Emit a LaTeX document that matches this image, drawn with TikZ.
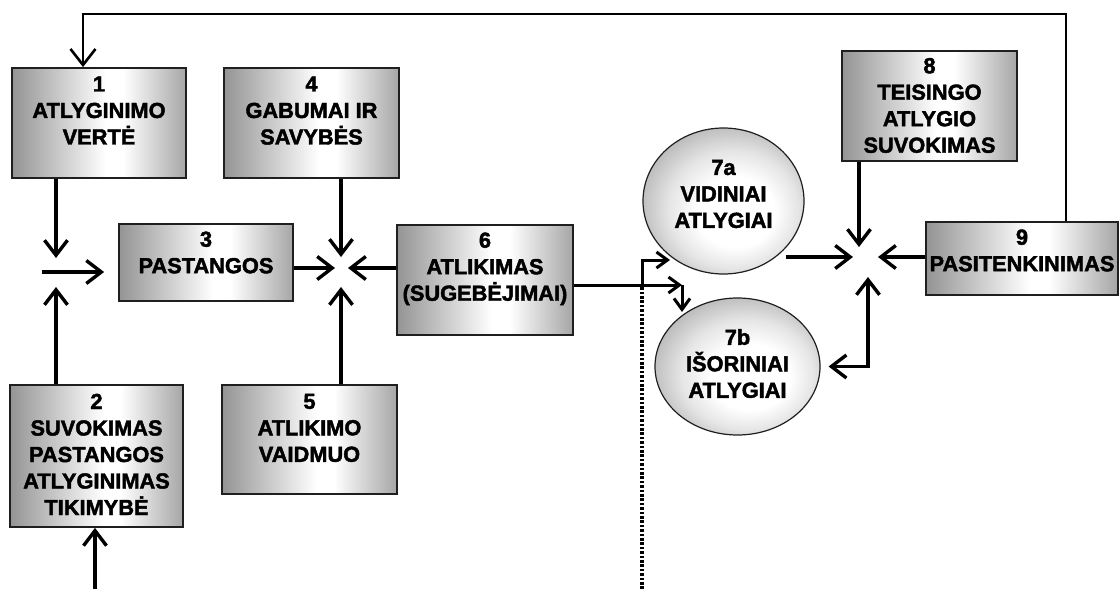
\documentclass[tikz,border=0pt]{standalone}
\usepackage{fontspec}
\setmainfont{Liberation Sans}[BoldFeatures={FakeBold=2}]
\usetikzlibrary{arrows.meta,shapes.geometric}

\definecolor{shEdgeL}{gray}{0.58}
\definecolor{shEdgeR}{gray}{0.65}
\definecolor{ballEdge}{gray}{0.70}
\definecolor{ballMid}{gray}{0.90}
\definecolor{rim}{gray}{0.12}

% box fill: grey at the sides, white a little right of the middle
\pgfdeclarehorizontalshading{boxshade}{100bp}{color(0bp)=(shEdgeL); color(25bp)=(shEdgeL); color(52bp)=(white); color(57bp)=(white); color(75bp)=(shEdgeR); color(100bp)=(shEdgeR)}
% ball fill: white core slightly low and right, grey rim
\pgfdeclareradialshading{ballshade}{\pgfpoint{5bp}{-5bp}}{color(0bp)=(white); color(12bp)=(white); color(20bp)=(ballMid); color(30bp)=(ballEdge); color(50bp)=(ballEdge)}

\newcommand\blkfont{\fontsize{21.8}{26.5}\selectfont\bfseries}

\tikzset{
  blk/.style={draw=rim, line width=1.8pt, shade, shading=boxshade, inner sep=0pt},
  blktext/.style={anchor=north, align=center, inner sep=0pt, font=\blkfont},
  ball/.style={ellipse, draw=rim, line width=1.2pt, shade, shading=ballshade, inner sep=0pt},
  arr/.style={line width=3.4pt, -{Straight Barb[length=15pt,width=23pt]}},
  arrS/.style={line width=3pt, -{Straight Barb[length=11pt,width=16pt]}},
  arrBoth/.style={line width=3.4pt, {Straight Barb[length=15pt,width=23pt]}-{Straight Barb[length=15pt,width=23pt]}},
  fbarr/.style={line width=2.6pt, -{Straight Barb[length=16pt,width=25pt]}},
  dotline/.style={line width=3.2pt, dash pattern=on 2.6pt off 1.8pt},
}

\begin{document}
\begin{tikzpicture}[x=1pt,y=-1pt]
\useasboundingbox (0,0) rectangle (1120,589);

% blocks
\node[blk, minimum width=174pt, minimum height=110pt] (b1) at (99,123) {};
\node[blk, minimum width=173pt, minimum height=142pt] (b2) at (96.5,456) {};
\node[blk, minimum width=174pt, minimum height=77pt]  (b3) at (206,262.5) {};
\node[blk, minimum width=175pt, minimum height=110pt] (b4) at (311.5,123) {};
\node[blk, minimum width=175pt, minimum height=109pt] (b5) at (309.5,439.5) {};
\node[blk, minimum width=176pt, minimum height=110pt] (b6) at (485,280) {};
\node[blk, minimum width=175pt, minimum height=110pt] (b8) at (929.5,106) {};
\node[blk, minimum width=192pt, minimum height=73pt]  (b9) at (1022,258.5) {};

\node[blktext] (t1) at ([yshift=-9.2pt]b1.north) {1\\ATLYGINIMO\\VERTĖ};
\node[blktext] (t2) at ([yshift=-9.5pt]b2.north) {2\\SUVOKIMAS\\PASTANGOS\\ATLYGINIMAS\\TIKIMYBĖ};
\node[blktext] (t3) at ([yshift=-8.2pt]b3.north) {3\\PASTANGOS};
\node[blktext] (t4) at ([yshift=-9.2pt]b4.north) {4\\GABUMAI IR\\SAVYBĖS};
\node[blktext] (t5) at ([yshift=-9.5pt]b5.north) {5\\ATLIKIMO\\VAIDMUO};
\node[blktext] (t6) at ([yshift=-8.2pt]b6.north) {6\\ATLIKIMAS\\(SUGEBĖJIMAI)};
\node[blktext] (t8) at ([yshift=-7.7pt]b8.north) {8\\TEISINGO\\ATLYGIO\\SUVOKIMAS};
\node[blktext] (t9) at ([yshift=-8.2pt]b9.north) {9\\PASITENKINIMAS};

% rewards
\node[ball, minimum width=161pt, minimum height=146pt] (b7a) at (723.5,201) {};
\node[ball, minimum width=165pt, minimum height=137pt] (b7b) at (737.5,366.5) {};
\node[blktext, anchor=center] (t7a) at ([yshift=7pt]b7a.center) {7a\\VIDINIAI\\ATLYGIAI};
\node[blktext, anchor=center] (t7b) at ([yshift=3pt]b7b.center) {7b\\IŠORINIAI\\ATLYGIAI};

% meeting points and free ends
\coordinate (j1) at (56,272);
\coordinate (j1w) at (42,272);
\coordinate (j2) at (341,268);
\coordinate (j3n) at (859,247);
\coordinate (j3s) at (868,277);
\coordinate (j3w) at (853,257);
\coordinate (j3e) at (878,257);
\coordinate (fbR) at (1066,14);
\coordinate (fbL) at (83,14);
\coordinate (in2) at (95,589);
\coordinate (dotB) at (642,589);
\coordinate (r6) at (682,285);
\coordinate (d6) at (682,312);
\coordinate (u7a) at (670,260);
\path (j1 -| b3.west) coordinate (b3in);
\path ([xshift=10pt]b7a.-47) coordinate (o7a);
\path ([xshift=8pt]b7b.east) coordinate (o7b);

% connectors into the effort block
\draw[arr] (b1.south -| j1) -- ([yshift=14pt]j1);
\draw[arr] (b2.north -| j1) -- ([yshift=-15pt]j1);
\draw[arr] (j1w) -- ([xshift=-14pt]b3in);
\draw[arr] (in2) -- (b2.south -| in2);

% connectors into the performance point
\draw[arr] (b3.east |- j2) -- ([xshift=-6pt]j2);
\draw[arr] (b6.west |- j2) -- ([xshift=7pt]j2);
\draw[arr] (b4.south -| j2) -- ([yshift=11pt]j2);
\draw[arr] (b5.north -| j2) -- ([yshift=-19pt]j2);

% performance to rewards
\draw[arrS] (b6.east |- r6) -- (r6);
\draw[arrS] (r6) -- (d6);
\draw[dotline] (dotB) -- (dotB |- r6);
\draw[arrS] (dotB |- r6) |- (u7a);

% rewards to satisfaction
\draw[arr] (o7a |- j3w) -- (j3w);
\draw[arr] (b8.south -| j3n) -- (j3n);
\draw[arr] (b9.west |- j3e) -- (j3e);
\draw[arrBoth] (j3s) -- (j3s |- o7b) -- (o7b);

% feedback loop
\draw[fbarr] (b9.north -| fbR) -- (fbR) -- (fbL) -- (b1.north -| fbL);
\end{tikzpicture}
\end{document}
